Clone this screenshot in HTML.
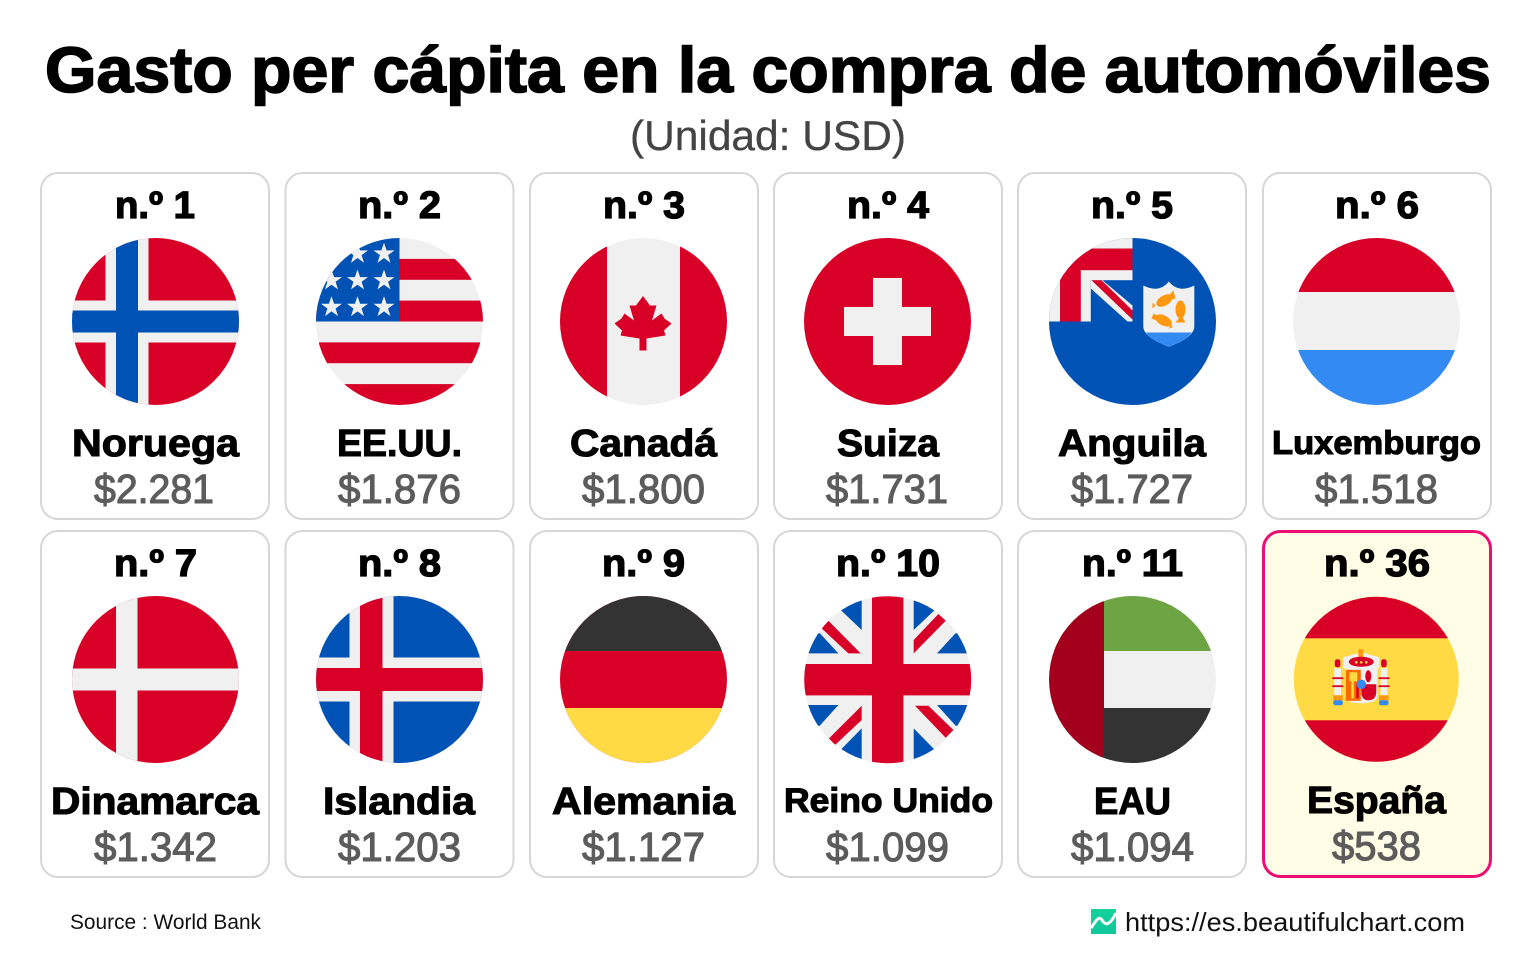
<!DOCTYPE html>
<html lang="es">
<head>
<meta charset="utf-8">
<title>Gasto per cápita en la compra de automóviles</title>
<style>
html,body{margin:0;padding:0;background:#fff;width:1536px;height:960px;overflow:hidden}
svg{display:block}
text{font-family:"Liberation Sans",sans-serif}
.title{font-size:64px;font-weight:700;fill:#000;stroke:#000;stroke-width:1.6}
.sub{font-size:42px;fill:#444;stroke:#444;stroke-width:.3}
.rank{font-size:38px;font-weight:700;fill:#000;stroke:#000;stroke-width:1.3}
.name{font-size:38px;font-weight:700;fill:#000;stroke:#000;stroke-width:1.1}
.val{font-size:41px;fill:#5c5c5c;stroke:#5c5c5c;stroke-width:1.1}
.card{fill:#fff;stroke:#d6d6d6;stroke-width:2}
.src{font-size:21px;fill:#111}
.url{font-size:26px;fill:#111}
</style>
</head>
<body>
<svg width="1536" height="960" viewBox="0 0 1536 960" xmlns="http://www.w3.org/2000/svg">
<defs>
<clipPath id="c"><circle r="83.5"/></clipPath>
<clipPath id="ce"><circle r="82.5"/></clipPath>
<polygon id="star" points="0,-11 2.6,-3.4 10.5,-3.4 4.1,1.3 6.5,8.9 0,4.2 -6.5,8.9 -4.1,1.3 -10.5,-3.4 -2.6,-3.4"/>
<linearGradient id="logo-grad" x1="0" y1="0" x2="0" y2="1"><stop offset="0" stop-color="#12d39a"/><stop offset="1" stop-color="#10c79b"/></linearGradient>
</defs>

<text class="title" x="45" y="92" textLength="1446" lengthAdjust="spacingAndGlyphs">Gasto per cápita en la compra de automóviles</text>
<text class="sub" x="630" y="150" textLength="276" lengthAdjust="spacingAndGlyphs">(Unidad: USD)</text>

<!-- Row 1 -->
<g>
<rect class="card" x="41" y="173" width="228" height="346" rx="17"/>
<text class="rank" x="115" y="218" textLength="80" lengthAdjust="spacingAndGlyphs">n.º 1</text>
<g transform="translate(155.5,321.5)" clip-path="url(#c)">
<rect x="-84" y="-84" width="168" height="168" fill="#d80027"/>
<rect x="-50" y="-84" width="43" height="168" fill="#f0f0f0"/><rect x="-84" y="-21" width="168" height="42" fill="#f0f0f0"/>
<rect x="-39.5" y="-84" width="22" height="168" fill="#0052b4"/><rect x="-84" y="-11" width="168" height="22" fill="#0052b4"/>
</g>
<text class="name" x="72" y="456" textLength="167" lengthAdjust="spacingAndGlyphs">Noruega</text>
<text class="val" x="94" y="503" textLength="120" lengthAdjust="spacingAndGlyphs">$2.281</text>
</g>

<g>
<rect class="card" x="285.5" y="173" width="228" height="346" rx="17"/>
<text class="rank" x="358" y="218" textLength="83" lengthAdjust="spacingAndGlyphs">n.º 2</text>
<g transform="translate(399.5,321.5)" clip-path="url(#c)">
<rect x="-84" y="-84" width="168" height="168" fill="#f0f0f0"/>
<g fill="#d80027"><rect x="-84" y="-62.6" width="168" height="20.9"/><rect x="-84" y="-20.9" width="168" height="20.9"/><rect x="-84" y="20.9" width="168" height="20.8"/><rect x="-84" y="62.6" width="168" height="21"/></g>
<rect x="-84" y="-84" width="84" height="84" fill="#0052b4"/>
<g fill="#f0f0f0">
<use href="#star" x="-15.5" y="-67.7"/><use href="#star" x="-42" y="-67.7"/>
<use href="#star" x="-15.5" y="-41"/><use href="#star" x="-42" y="-41"/><use href="#star" x="-68" y="-41"/>
<use href="#star" x="-15.5" y="-14.3"/><use href="#star" x="-42" y="-14.3"/><use href="#star" x="-68" y="-14.3"/>
</g>
</g>
<text class="name" x="337" y="456" textLength="125" lengthAdjust="spacingAndGlyphs">EE.UU.</text>
<text class="val" x="338" y="503" textLength="123" lengthAdjust="spacingAndGlyphs">$1.876</text>
</g>

<g>
<rect class="card" x="530" y="173" width="228" height="346" rx="17"/>
<text class="rank" x="603" y="218" textLength="82" lengthAdjust="spacingAndGlyphs">n.º 3</text>
<g transform="translate(643.5,321.5)" clip-path="url(#c)">
<rect x="-84" y="-84" width="168" height="168" fill="#f0f0f0"/>
<rect x="-84" y="-84" width="47.5" height="168" fill="#d80027"/><rect x="36.5" y="-84" width="48" height="168" fill="#d80027"/>
<polygon fill="#d80027" points="-0.5,-25.5 6.5,-16 13,-16 8.5,-1 18,-8 21,-3 28,2 20.5,9 22,14 3,17 3,29 -4,29 -4,17 -23,14 -21.5,9 -29,2 -22,-3 -19,-8 -9.5,-1 -14,-16 -7.5,-16"/>
</g>
<text class="name" x="570" y="456" textLength="147" lengthAdjust="spacingAndGlyphs">Canadá</text>
<text class="val" x="582" y="503" textLength="123" lengthAdjust="spacingAndGlyphs">$1.800</text>
</g>

<g>
<rect class="card" x="774" y="173" width="228" height="346" rx="17"/>
<text class="rank" x="847" y="218" textLength="82" lengthAdjust="spacingAndGlyphs">n.º 4</text>
<g transform="translate(887.5,321.5)" clip-path="url(#c)">
<rect x="-84" y="-84" width="168" height="168" fill="#d80027"/>
<rect x="-14.5" y="-43.5" width="29" height="87" fill="#f0f0f0"/><rect x="-43.5" y="-14.5" width="87" height="29" fill="#f0f0f0"/>
</g>
<text class="name" x="837" y="456" textLength="102" lengthAdjust="spacingAndGlyphs">Suiza</text>
<text class="val" x="826" y="503" textLength="122" lengthAdjust="spacingAndGlyphs">$1.731</text>
</g>

<g>
<rect class="card" x="1018" y="173" width="228" height="346" rx="17"/>
<text class="rank" x="1091" y="218" textLength="82" lengthAdjust="spacingAndGlyphs">n.º 5</text>
<g transform="translate(1132.5,321.5)" clip-path="url(#c)">
<rect x="-84" y="-84" width="168" height="168" fill="#0052b4"/>
<rect x="-84" y="-84" width="84" height="84" fill="#f0f0f0"/>
<rect x="-72.5" y="-73" width="72.5" height="21.7" fill="#d80027"/><rect x="-72.5" y="-52" width="20.8" height="52" fill="#d80027"/>
<rect x="-41.7" y="-41.3" width="41.7" height="41.3" fill="#0052b4"/>
<polygon fill="#f0f0f0" points="-41.7,-41.3 -30,-41.3 0,-16 0,0 -5,0 -41.7,-33"/>
<polygon fill="#d80027" points="-41,-41.3 -31,-41.3 0,-11 0,-2"/>
<path fill="#f0f0f0" d="M10.8,-36 Q27,-28 36.3,-40 Q46,-28 61.8,-36 V5 C61.8,15 45,22 36.3,25.3 C28,22 10.8,15 10.8,5Z"/>
<path fill="#338af3" d="M13.5,11 H59 C55,18 44,22 36.3,25.3 C28,22 17,18 13.5,11Z"/>
<g fill="#ff9811">
<ellipse cx="32" cy="-21" rx="9" ry="5" transform="rotate(-30 32 -21)"/><polygon points="36,-26 41,-31 43,-23 39,-22"/><polygon points="23,-16 20,-19 20,-13"/>
<ellipse cx="48" cy="-12" rx="5" ry="9"/><polygon points="47,-4 43,1 53,1 50,-4"/>
<ellipse cx="31" cy="-1" rx="9" ry="5" transform="rotate(28 31 -1)"/><polygon points="26,-5 21,-8 19,-3 24,-1"/><polygon points="39,3 40,6 36,7"/>
</g>
</g>
<text class="name" x="1058" y="456" textLength="148" lengthAdjust="spacingAndGlyphs">Anguila</text>
<text class="val" x="1071" y="503" textLength="122" lengthAdjust="spacingAndGlyphs">$1.727</text>
</g>

<g>
<rect class="card" x="1263" y="173" width="228" height="346" rx="17"/>
<text class="rank" x="1335" y="218" textLength="84" lengthAdjust="spacingAndGlyphs">n.º 6</text>
<g transform="translate(1376.5,321.5)" clip-path="url(#c)">
<rect x="-84" y="-84" width="168" height="168" fill="#f0f0f0"/>
<rect x="-84" y="-84" width="168" height="54.5" fill="#d80027"/><rect x="-84" y="28.5" width="168" height="56" fill="#338af3"/>
</g>
<text class="name" x="1272" y="454" style="font-size:33px" textLength="209" lengthAdjust="spacingAndGlyphs">Luxemburgo</text>
<text class="val" x="1315" y="503" textLength="123" lengthAdjust="spacingAndGlyphs">$1.518</text>
</g>

<!-- Row 2 -->
<g>
<rect class="card" x="41" y="531" width="228" height="346" rx="17"/>
<text class="rank" x="114" y="576" textLength="83" lengthAdjust="spacingAndGlyphs">n.º 7</text>
<g transform="translate(155.5,679.5)" clip-path="url(#c)">
<rect x="-84" y="-84" width="168" height="168" fill="#d80027"/>
<rect x="-39.5" y="-84" width="21.5" height="168" fill="#f0f0f0"/><rect x="-84" y="-11" width="168" height="22" fill="#f0f0f0"/>
</g>
<text class="name" x="51" y="814" textLength="208" lengthAdjust="spacingAndGlyphs">Dinamarca</text>
<text class="val" x="94" y="861" textLength="123" lengthAdjust="spacingAndGlyphs">$1.342</text>
</g>

<g>
<rect class="card" x="285.5" y="531" width="228" height="346" rx="17"/>
<text class="rank" x="358" y="576" textLength="83" lengthAdjust="spacingAndGlyphs">n.º 8</text>
<g transform="translate(399.5,679.5)" clip-path="url(#c)">
<rect x="-84" y="-84" width="168" height="168" fill="#0052b4"/>
<rect x="-50" y="-84" width="44" height="168" fill="#f0f0f0"/><rect x="-84" y="-22" width="168" height="44" fill="#f0f0f0"/>
<rect x="-39.5" y="-84" width="22.5" height="168" fill="#d80027"/><rect x="-84" y="-11.5" width="168" height="23" fill="#d80027"/>
</g>
<text class="name" x="323" y="814" textLength="152" lengthAdjust="spacingAndGlyphs">Islandia</text>
<text class="val" x="338" y="861" textLength="123" lengthAdjust="spacingAndGlyphs">$1.203</text>
</g>

<g>
<rect class="card" x="530" y="531" width="228" height="346" rx="17"/>
<text class="rank" x="602" y="576" textLength="83" lengthAdjust="spacingAndGlyphs">n.º 9</text>
<g transform="translate(643.5,679.5)" clip-path="url(#c)">
<rect x="-84" y="-84" width="168" height="168" fill="#d80027"/>
<rect x="-84" y="-84" width="168" height="55.5" fill="#333"/><rect x="-84" y="28.5" width="168" height="56" fill="#ffda44"/>
</g>
<text class="name" x="552" y="814" textLength="183" lengthAdjust="spacingAndGlyphs">Alemania</text>
<text class="val" x="582" y="861" textLength="123" lengthAdjust="spacingAndGlyphs">$1.127</text>
</g>

<g>
<rect class="card" x="774" y="531" width="228" height="346" rx="17"/>
<text class="rank" x="836" y="576" textLength="104" lengthAdjust="spacingAndGlyphs">n.º 10</text>
<g transform="translate(887.7,679.7)" clip-path="url(#c)">
<rect x="-84" y="-84" width="168" height="168" fill="#f0f0f0"/>
<g fill="#0052b4">
<polygon points="-26,-85 -26,-49.7 -47,-69.7 -47,-85"/><polygon points="26,-85 26,-49.7 47,-69.7 47,-85"/>
<polygon points="-85,-26.3 -49.3,-26.3 -67.7,-46.3 -85,-46.3"/><polygon points="85,-26.3 49.3,-26.3 67.7,-46.3 85,-46.3"/>
<polygon points="-85,25.3 -49.3,25.3 -68,46 -85,46"/><polygon points="85,25.3 49.3,25.3 68,46 85,46"/>
<polygon points="-26,48.7 -26,85 -46,85 -46,69"/><polygon points="26,48.7 26,85 46,85 46,69"/>
</g>
<g fill="#d80027">
<polygon points="-66,-51.3 -59.3,-59 -27,-26.3 -39.3,-26.3"/>
<polygon points="26,-26.3 26,-39.7 50.7,-65.7 58,-59"/>
<polygon points="-26,26 -26,40.3 -52.7,65.3 -58.7,58.7"/>
<polygon points="27.3,26 40.7,26 65.7,50.3 58,58"/>
<rect x="-15.7" y="-84" width="31.4" height="168"/><rect x="-84" y="-15.7" width="168" height="31.4"/>
</g>
</g>
<text class="name" x="784" y="812" style="font-size:34px" textLength="209" lengthAdjust="spacingAndGlyphs">Reino Unido</text>
<text class="val" x="826" y="861" textLength="123" lengthAdjust="spacingAndGlyphs">$1.099</text>
</g>

<g>
<rect class="card" x="1018" y="531" width="228" height="346" rx="17"/>
<text class="rank" x="1082" y="576" textLength="101" lengthAdjust="spacingAndGlyphs">n.º 11</text>
<g transform="translate(1132.5,679.5)" clip-path="url(#c)">
<rect x="-84" y="-84" width="168" height="168" fill="#f0f0f0"/>
<rect x="-84" y="-84" width="168" height="55.5" fill="#6da544"/><rect x="-84" y="28.5" width="168" height="56" fill="#333"/>
<rect x="-84" y="-84" width="55.5" height="168" fill="#a2001d"/>
</g>
<text class="name" x="1094" y="814" textLength="77" lengthAdjust="spacingAndGlyphs">EAU</text>
<text class="val" x="1071" y="861" textLength="123" lengthAdjust="spacingAndGlyphs">$1.094</text>
</g>

<g>
<rect x="1263.5" y="531.5" width="227" height="345" rx="17" fill="#fffde6" stroke="#ec0f73" stroke-width="3"/>
<text class="rank" x="1324" y="576" textLength="106" lengthAdjust="spacingAndGlyphs">n.º 36</text>
<g transform="translate(1376.3,679.3)" clip-path="url(#ce)">
<rect x="-84" y="-84" width="168" height="168" fill="#ffda44"/>
<rect x="-84" y="-84" width="168" height="43" fill="#d80027"/><rect x="-84" y="41" width="168" height="43" fill="#d80027"/>
<g>
<rect x="-42" y="-11" width="6.7" height="27" fill="#f0f0f0"/><rect x="4.3" y="-11" width="6.7" height="27" fill="#f0f0f0"/>
<rect x="-41.5" y="-20" width="5.6" height="8" rx="2.5" fill="#d80027"/><rect x="4.8" y="-20" width="5.6" height="8" rx="2.5" fill="#d80027"/>
<rect x="-44" y="-2" width="11" height="1.8" fill="#d80027"/><rect x="-44" y="6" width="11" height="1.8" fill="#d80027"/>
<rect x="2.3" y="-2" width="11" height="1.8" fill="#d80027"/><rect x="2.3" y="6" width="11" height="1.8" fill="#d80027"/>
<rect x="-43" y="16" width="9.5" height="5" fill="#ff9811"/><rect x="2.7" y="16" width="9.5" height="5" fill="#ff9811"/>
<rect x="-43" y="21" width="9.5" height="5" rx="2" fill="#338af3"/><rect x="2.7" y="21" width="9.5" height="5" rx="2" fill="#338af3"/>
<path d="M-33,-22 L-15,-27 L3,-22 V-11 H1 V17 Q1,24 -15,24 Q-31,24 -31,17 V-11 H-33Z" fill="#f0f0f0"/>
<rect x="-18" y="-30" width="5" height="10" fill="#ff9811"/>
<ellipse cx="-15" cy="-17.5" rx="12.5" ry="5" fill="#d80027"/>
<circle cx="-20" cy="-17" r="1.3" fill="#ffda44"/><circle cx="-15" cy="-17" r="1.3" fill="#ffda44"/><circle cx="-10" cy="-17" r="1.3" fill="#ffda44"/>
<rect x="-30.5" y="-9.5" width="15" height="31" fill="#ff6a00"/>
<rect x="-27" y="-7" width="8" height="9" fill="#ffda44"/><rect x="-25" y="2" width="2.5" height="17" fill="#ffda44"/>
<rect x="-20" y="4" width="2.5" height="15" fill="#d80027"/>
<rect x="-15" y="-9.5" width="15" height="15" fill="#f0f0f0"/><ellipse cx="-8" cy="-3" rx="3" ry="6" fill="#d80027"/>
<path d="M-15,5 H0 V12 Q0,21 -8,21 Q-15,21 -15,12Z" fill="#d80027"/>
<circle cx="-15" cy="5" r="4.7" fill="#338af3"/>
</g>
</g>
<text class="name" x="1307" y="813" textLength="139" lengthAdjust="spacingAndGlyphs">España</text>
<text class="val" x="1332" y="860" textLength="89" lengthAdjust="spacingAndGlyphs">$538</text>
</g>

<text class="src" x="70" y="929" textLength="191" lengthAdjust="spacingAndGlyphs">Source : World Bank</text>
<g>
<rect x="1091" y="909" width="25" height="25" fill="url(#logo-grad)"/>
<path d="M1091,928 C1097,919 1099,916 1102,920 C1105,925 1109,927 1116,913" fill="none" stroke="#fff" stroke-width="3"/>
</g>
<text class="url" x="1125" y="931" textLength="340" lengthAdjust="spacingAndGlyphs">https://es.beautifulchart.com</text>
</svg>
</body>
</html>
